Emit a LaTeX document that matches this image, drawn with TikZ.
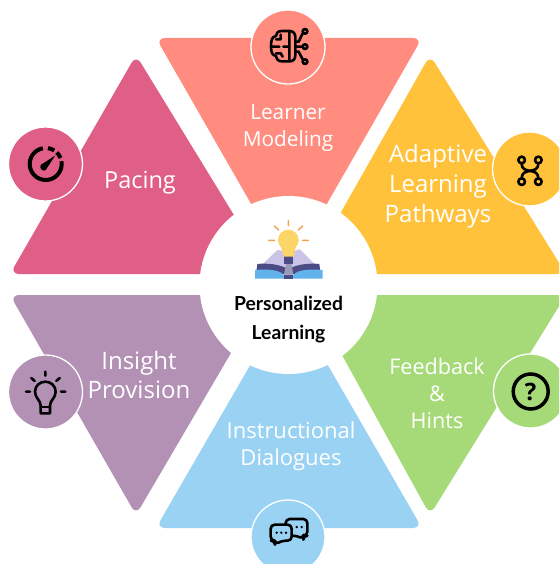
\documentclass[tikz,border=0pt]{standalone}
\usepackage{fontspec}
\setmainfont{Open Sans}
\newfontfamily\latofont{Lato}
\definecolor{cred}{HTML}{FF8C7F}
\definecolor{cpink}{HTML}{DF5F86}
\definecolor{cyel}{HTML}{FFC23A}
\definecolor{cgreen}{HTML}{A6DA78}
\definecolor{cblue}{HTML}{9AD2F3}
\definecolor{cpurp}{HTML}{B291B5}
\definecolor{bkpage}{HTML}{C9C3E8}
\definecolor{bkdark}{HTML}{4B4C86}
\definecolor{bkblue}{HTML}{62B2EC}
\definecolor{bulby}{HTML}{FBD568}
\definecolor{rayo}{HTML}{F5A04A}
\definecolor{neckg}{HTML}{9A9AB8}
\tikzset{
 tri/.style={rounded corners=9pt},
 badge/.style={draw=white,line width=1.3pt},
 lab/.style={text=white,font=\fontsize{20.8}{27}\selectfont,align=center,inner sep=0},
 ico/.style={draw=black,line width=2.6pt,line cap=round,line join=round},
 zm/.style={x=0.33333pt,y=-0.33333pt},
 ctr/.style={font=\latofont\bfseries\fontsize{19.3}{22}\selectfont,text=black,inner sep=0}
}
\begin{document}
\begin{tikzpicture}[x=1pt,y=-1pt]
\path[use as bounding box] (0,0) rectangle (559,564);
\clip (0,0) rectangle (559,564);
\fill[white] (0,0) rectangle (559,564);
% sectors
\fill[cred,tri] (156,38) -- (422,38) -- (289,270) -- cycle;
\fill[cpink,tri] (10,274) -- (136,55) -- (270,274) -- cycle;
\fill[cyel,tri] (306,274) -- (430,55) -- (566,274) -- cycle;
\fill[cpurp,tri] (10,295) -- (136,515) -- (265,295) -- cycle;
\fill[cgreen,tri] (309,295) -- (430,515) -- (566,295) -- cycle;
\fill[cblue,tri] (156,528) -- (422,528) -- (289,298) -- cycle;
% hub
\fill[white] (288.5,285) circle[radius=89];
% badges
\filldraw[cred,badge] (288,47) circle[radius=37];
\filldraw[cpink,badge] (45.5,164) circle[radius=37];
\filldraw[cyel,badge] (529.5,169) circle[radius=37];
\filldraw[cpurp,badge] (45.5,392) circle[radius=37];
\filldraw[cgreen,badge] (530.5,391) circle[radius=37];
\filldraw[cblue,badge] (288,537) circle[radius=37];
% labels
\node[lab] (l1) at (288,128) {Learner\\Modeling};
\node[lab,font=\fontsize{23.5}{30}\selectfont] (l2) at (140,182.5) {Pacing};
\node[lab,font=\fontsize{24}{30}\selectfont] (l3) at (438,186) {Adaptive\\Learning\\Pathways};
\node[lab,font=\fontsize{21.6}{27}\selectfont] (l4) at (437,393) {Feedback\\\&\\Hints};
\node[lab,font=\fontsize{24}{29}\selectfont] (l5) at (139,374.5) {Insight\\Provision};
\node[lab,font=\fontsize{22}{27}\selectfont] (l6) at (291,446) {Instructional\\Dialogues};
\node[ctr] (c1) at (288.5,303) {Personalized};
\node[ctr] (c2) at (288.5,334) {Learning};
% hub icon
\begin{scope}[shift={(200,190)},zm]
 \draw[rayo,line width=1.4pt,line cap=round]
  (265,92)--(265,107) (223,108)--(236,120) (308,108)--(295,120) (206,151)--(224,151) (308,151)--(325,151);
 \fill[bkpage] (172,238) -- (232,180) .. controls (250,180) and (260,190) .. (265,200) .. controls (272,190) and (285,180) .. (300,178) -- (360,238) -- cycle;
 \fill[bkdark] (172,222) .. controls (200,219) and (240,222) .. (265,238) .. controls (290,222) and (330,219) .. (358,222) -- (362,252) -- (168,252) -- cycle;
 \fill[bkblue] (165,240) .. controls (200,236) and (240,240) .. (250,254) -- (282,254) .. controls (290,240) and (330,236) .. (368,240) -- (368,266) -- (165,266) -- cycle;
 \fill[bkdark] (252,254) rectangle (280,266);
 \fill[neckg] (258,220) -- (274,220) -- (280,254) -- (252,254) -- cycle;
 \fill[bkdark] (252,198) rectangle (280,222);
 \fill[bulby] (265,150) circle[radius=31];
 \fill[bulby] (243,172) -- (287,172) -- (280,200) -- (252,200) -- cycle;
\end{scope}
% brain icon
\begin{scope}[shift={(240,0)},zm]
 \draw[ico] (148,93) -- (125,93) .. controls (112,93) and (108,102) .. (108,108) .. controls (95,110) and (93,122) .. (93,140) .. controls (93,160) and (98,165) .. (108,168) .. controls (110,178) and (115,184) .. (125,184) -- (148,184) -- cycle;
 \draw[ico] (148,93) .. controls (160,93) and (166,100) .. (166,112) -- (166,165) .. controls (166,178) and (160,184) .. (148,184);
 \draw[ico] (108,118) -- (122,118) -- (122,104) (94,140) -- (118,140) (130,140) -- (148,140) (108,160) -- (122,160) -- (128,170);
 \draw[ico] (166,125) -- (176,125) -- (188,100) (166,140) -- (186,140) (166,155) -- (176,155) -- (188,178);
 \draw[ico] (195,94) circle[radius=7] (195,140) circle[radius=7] (195,185) circle[radius=7];
\end{scope}
% gauge icon
\begin{scope}[shift={(45.7,164)},x=1pt,y=1pt]
 \draw[draw=black,line width=4pt] (100:16) arc (100:370:16);
 \draw[draw=black,line width=4pt] (82:16) arc (82:58:16);
 \draw[draw=black,line width=4pt] (46:16) arc (46:22:16);
 \fill[black] (-5,-1) -- (9.5,8.5) -- (0,-6) .. controls (-2,-8) and (-7,-5) .. (-5,-1) -- cycle;
\end{scope}
% pathways icon
\begin{scope}[shift={(480,125)},zm]
 \draw[ico] (125,105) circle[radius=10] (175,105) circle[radius=10] (125,170) circle[radius=10] (175,170) circle[radius=10];
 \draw[ico] (125,116) .. controls (125,150) and (175,125) .. (175,160);
 \draw[ico] (175,116) .. controls (175,150) and (125,125) .. (125,160);
\end{scope}
% bulb icon
\begin{scope}[shift={(0,345)},zm]
 \draw[ico] (122,182) .. controls (122,165) and (105,160) .. (105,140) .. controls (105,122) and (120,110) .. (136,110) .. controls (152,110) and (167,122) .. (167,140) .. controls (167,160) and (150,165) .. (150,182) -- (150,205) -- (122,205) -- cycle;
 \draw[ico] (122,186) -- (150,186);
 \draw[ico] (136,80) -- (136,92) (94,99) -- (104,108) (179,99) -- (169,108) (78,140) -- (90,140) (183,140) -- (196,140);
\end{scope}
% question icon
\draw[black,line width=3.5pt] (530.7,391.5) circle[radius=17.5];
\node[inner sep=0,text=black,font=\bfseries\fontsize{24}{24}\selectfont] (q) at (530.7,391.5) {?};
% chat icon
\begin{scope}[shift={(240,484)},zm]
 \draw[ico,rounded corners=4pt] (137,105) -- (202,105) -- (202,155) -- (190,155) -- (190,165) -- (170,155) -- (137,155) -- cycle;
 \filldraw[ico,fill=cblue,rounded corners=4pt] (92,122) -- (155,122) -- (155,170) -- (125,170) -- (105,182) -- (105,170) -- (92,170) -- cycle;
 \fill[black] (110,146) circle[radius=4] (124,146) circle[radius=4] (138,146) circle[radius=4] (170,129) circle[radius=4] (185,129) circle[radius=4];
\end{scope}
\end{tikzpicture}
\end{document}
